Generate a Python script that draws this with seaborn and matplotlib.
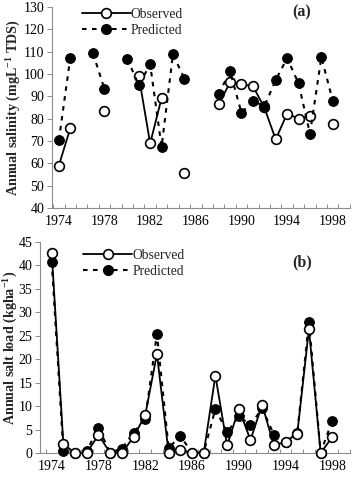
"""
Observed vs predicted annual salinity (a) and annual salt load (b), 1974-1998.
"""

import numpy as np
import pandas as pd
import matplotlib
matplotlib.use('Agg')
import matplotlib.pyplot as plt
from matplotlib.lines import Line2D
import seaborn as sns

nan = np.nan

years = [1974, 1975, 1976, 1977, 1978, 1979, 1980, 1981, 1982, 1983, 1984, 1985, 1986,
         1987, 1988, 1989, 1990, 1991, 1992, 1993, 1994, 1995, 1996, 1997, 1998]

# (a) annual salinity, mg/L TDS
sal_observed = [59.0, 75.6, nan, nan, 83.4, nan, nan, 99.2, 68.9, 89.2, nan, 55.6, nan,
                nan, 86.4, 96.2, 95.3, 94.6, 85.0, 70.7, 82.3, 80.0, 81.2, nan, 77.5]
sal_predicted = [70.3, 107.1, nan, 109.2, 93.2, nan, 106.8, 95.0, 104.3, 67.4, 108.9, 97.8, nan,
                 nan, 91.0, 101.2, 82.6, 88.0, 85.5, 97.3, 107.1, 95.8, 73.3, 107.5, 88.0]

# (b) annual salt load, kg/ha
load_observed = [42.7, 1.9, 0.0, 0.0, 3.9, 0.0, 0.0, 3.4, 8.1, 21.1, 0.0, 0.7, 0.0,
                 0.0, 16.5, 1.6, 9.4, 2.8, 10.3, 1.6, 2.4, 4.1, 26.4, 0.0, 3.4]
load_predicted = [40.8, 0.4, 0.1, 0.5, 5.3, 0.1, 0.9, 4.3, 7.3, 25.4, 1.1, 3.6, 0.1,
                  0.1, 9.4, 4.4, 7.8, 6.0, 9.5, 3.9, 2.4, 4.2, 28.0, 0.1, 6.9]

year_labels = [1974, 1978, 1982, 1986, 1990, 1994, 1998]

sns.set_theme(style='white')
plt.rcParams.update({
    'font.family': ['Liberation Serif', 'DejaVu Serif'],
    'mathtext.fontset': 'custom',
    'mathtext.rm': 'Liberation Serif',
    'mathtext.bf': 'Liberation Serif:bold',
    'font.size': 10,
    'axes.edgecolor': '#8c8c8c',
    'axes.linewidth': 0.8,
})

DOT = (0, (2.2, 2.6))
obs_style = dict(color='black', linestyle='-', linewidth=1.3, marker='o', markersize=7,
                 markerfacecolor='white', markeredgecolor='black', markeredgewidth=1.2)
pred_style = dict(color='black', linestyle=DOT, linewidth=1.5, marker='o', markersize=7,
                  markerfacecolor='black', markeredgecolor='black')


def segments(values):
    # split a series at missing years so gaps stay open, as in the original
    df = pd.DataFrame({'year': years, 'value': values})
    df['seg'] = df['value'].isna().cumsum()
    return df.dropna()


def draw_series(ax, values, style, z):
    df = segments(values)
    sns.lineplot(data=df, x='year', y='value', units='seg', estimator=None, ax=ax,
                 legend=False, zorder=z, clip_on=False, **style)


def style_axes(ax, ylim, yticks, xlim, ylabel, label_x, tag, tag_xy):
    ax.set_ylim(*ylim)
    ax.set_yticks(yticks)
    ax.set_xlim(*xlim)
    ax.set_xticks(year_labels)
    ax.set_xticks(np.arange(1973.5, 1999.6, 1.0), minor=True)
    ax.tick_params(axis='x', which='major', length=0, pad=5, labelsize=10, colors='black')
    ax.tick_params(axis='x', which='minor', direction='in', length=3, width=0.7,
                   color='#8c8c8c', bottom=True)
    ax.tick_params(axis='y', which='major', direction='out', length=3.5, width=0.7,
                   color='#8c8c8c', left=True, pad=2, labelsize=10, labelcolor='black')
    ax.set_xlabel('')
    ax.set_ylabel(ylabel, fontsize=10.2, fontweight='bold', va='center')
    ax.yaxis.set_label_coords(label_x, 0.5)
    sns.despine(ax=ax)
    ax.text(tag_xy[0], tag_xy[1], tag, transform=ax.transAxes, fontsize=11.5,
            fontweight='bold', ha='center', va='center')


def add_legend(ax, x, y):
    handles = [Line2D([], [], **obs_style), Line2D([], [], **pred_style)]
    ax.legend(handles, ['Observed', 'Predicted'], loc='upper left', bbox_to_anchor=(x, y),
              frameon=False, handlelength=3.6, handletextpad=0.0, labelspacing=0.2,
              borderaxespad=0, borderpad=0, fontsize=9.8)


fig = plt.figure(figsize=(3.62, 4.82), dpi=100)
ax_a = fig.add_axes([0.1436, 0.5685, 0.823, 0.417])
ax_b = fig.add_axes([0.1105, 0.0602, 0.856, 0.438])

# (a) salinity: predicted drawn over observed
draw_series(ax_a, sal_observed, obs_style, 3)
draw_series(ax_a, sal_predicted, pred_style, 4)
style_axes(ax_a, (40, 130), range(40, 131, 10), (1973.4, 1999.5),
           'Annual salinity (mgL$^{\\mathbf{-1}}$ TDS)', -0.134, '(a)', (0.839, 0.975))
add_legend(ax_a, 0.10, 0.995)

# (b) salt load: observed drawn over predicted
draw_series(ax_b, load_predicted, pred_style, 3)
draw_series(ax_b, load_observed, obs_style, 4)
style_axes(ax_b, (0, 45), range(0, 46, 5), (1973.0, 1999.5),
           'Annual salt load (kgha$^{\\mathbf{-1}}$)', -0.097, '(b)', (0.845, 0.905))
add_legend(ax_b, 0.14, 0.967)

fig.savefig('out.png', dpi=100)
plt.close(fig)
